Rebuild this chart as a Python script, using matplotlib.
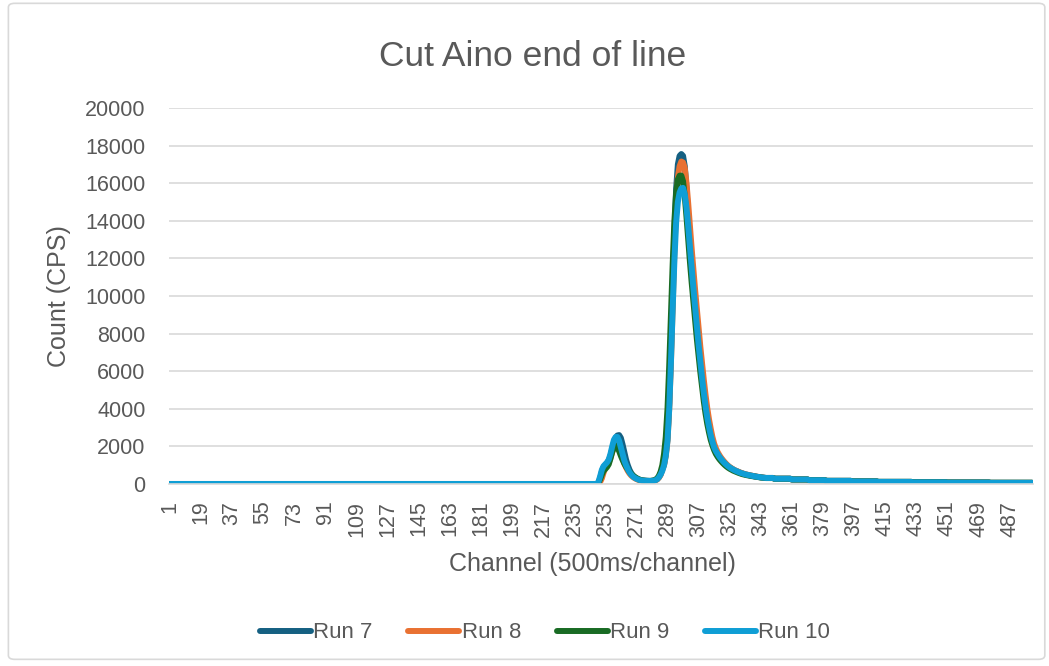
import numpy as np
import matplotlib
matplotlib.use("Agg")
import matplotlib.pyplot as plt
from matplotlib.patches import FancyBboxPatch

plt.rcParams["font.family"] = ["Liberation Sans", "DejaVu Sans"]

# Channels 1..500, values
channels = np.arange(1, 501)
labels = ["Run 7", "Run 8", "Run 9", "Run 10"]
colors = ["#156082", "#E97132", "#196B24", "#0F9ED5"]

# flat start: channels 1-245
baseline = [0] * 245

# peak window: channels 246-345
run7_peak = [
    0, 0, 0, 50, 300, 650, 900, 1000, 1100, 1250,
    1500, 1850, 2200, 2450, 2580, 2600, 2450, 2100, 1700, 1300,
    1000, 760, 580, 450, 360, 300, 250, 220, 200, 185,
    175, 170, 165, 165, 170, 180, 210, 260, 360, 520,
    800, 1050, 1600, 2500, 4300, 7000, 10200, 13300, 15700, 17000,
    17450, 17550, 17450, 16900, 15700, 14200, 12800, 11500, 10400, 9400,
    8400, 7400, 6500, 5650, 4850, 4150, 3550, 3050, 2600, 2250,
    1980, 1770, 1610, 1460, 1340, 1230, 1130, 1040, 960, 890,
    830, 775, 725, 685, 645, 605, 575, 545, 515, 492,
    472, 452, 432, 412, 397, 382, 367, 352, 342, 332,
]
run8_peak = [
    0, 0, 0, 0, 100, 300, 600, 850, 1000, 1150,
    1400, 1700, 1950, 2100, 2100, 1950, 1700, 1400, 1100, 880,
    700, 560, 450, 370, 310, 260, 225, 200, 185, 175,
    165, 160, 155, 155, 160, 170, 195, 240, 330, 480,
    750, 1000, 1500, 2300, 4000, 6500, 9500, 12400, 14800, 16300,
    16900, 17150, 17100, 16800, 16000, 14900, 13700, 12500, 11400, 10300,
    9300, 8300, 7300, 6400, 5550, 4750, 4050, 3450, 2950, 2500,
    2150, 1900, 1700, 1540, 1400, 1280, 1170, 1070, 980, 900,
    840, 780, 730, 690, 650, 610, 575, 545, 515, 495,
    470, 450, 430, 410, 395, 380, 365, 350, 340, 330,
]
run9_peak = [
    0, 0, 0, 50, 250, 500, 700, 800, 900, 1050,
    1350, 1700, 1950, 2050, 1950, 1750, 1500, 1280, 1080, 920,
    780, 650, 540, 450, 380, 320, 270, 230, 200, 185,
    170, 165, 160, 160, 170, 190, 230, 300, 430, 650,
    1000, 1600, 2500, 4000, 6300, 9000, 11700, 14000, 15500, 16200,
    16400, 16400, 16100, 15300, 14200, 13000, 11800, 10700, 9700, 8700,
    7700, 6800, 5950, 5150, 4400, 3750, 3200, 2750, 2350, 2050,
    1800, 1600, 1450, 1320, 1210, 1110, 1020, 940, 870, 810,
    760, 710, 670, 630, 595, 560, 530, 505, 485, 465,
    445, 430, 415, 400, 385, 370, 360, 345, 335, 325,
]
run10_peak = [
    0, 0, 0, 100, 400, 750, 950, 1050, 1150, 1300,
    1600, 2000, 2350, 2500, 2500, 2300, 1950, 1600, 1250, 1000,
    800, 620, 500, 400, 330, 280, 240, 210, 190, 180,
    170, 165, 160, 160, 165, 175, 200, 250, 350, 500,
    700, 1000, 1500, 2300, 4000, 6500, 9300, 11900, 13900, 15000,
    15500, 15720, 15750, 15400, 14700, 13700, 12600, 11500, 10400, 9400,
    8400, 7400, 6500, 5650, 4850, 4150, 3550, 3050, 2600, 2250,
    1950, 1750, 1600, 1450, 1330, 1220, 1120, 1030, 950, 880,
    820, 770, 720, 680, 640, 600, 570, 540, 510, 490,
    470, 450, 430, 410, 395, 380, 365, 350, 340, 330,
]

# slow tail: channels 346-500
run7_tail = [322] * 5 + [282] * 10 + [242] * 10 + [202] * 10 + [167] * 15 + [137] * 15 + [112] * 20 + [92] * 20 + [76] * 25 + [62] * 25
run8_tail = [318] * 5 + [278] * 10 + [238] * 10 + [198] * 10 + [163] * 15 + [133] * 15 + [108] * 20 + [88] * 20 + [72] * 25 + [58] * 25
run9_tail = [315] * 5 + [276] * 10 + [238] * 10 + [200] * 10 + [166] * 15 + [138] * 15 + [114] * 20 + [95] * 20 + [80] * 25 + [66] * 25
run10_tail = [320] * 5 + [280] * 10 + [240] * 10 + [200] * 10 + [165] * 15 + [135] * 15 + [110] * 20 + [90] * 20 + [75] * 25 + [60] * 25

series = [
    baseline + run7_peak + run7_tail,
    baseline + run8_peak + run8_tail,
    baseline + run9_peak + run9_tail,
    baseline + run10_peak + run10_tail,
]

grey_text = "#595959"
grid_col = "#D9D9D9"

fig = plt.figure(figsize=(10.49, 6.66), dpi=100)
ax = fig.add_axes([0.1611, 0.2733, 0.8236, 0.5646])

for vals, lab, col in zip(series, labels, colors):
    ax.plot(channels, vals, color=col, lw=4.3, label=lab,
            solid_capstyle="round", solid_joinstyle="round")

ax.set_xlim(0.5, 500.5)
ax.set_ylim(0, 20000)
ax.set_yticks(np.arange(0, 20001, 2000))
ax.set_xticks(np.arange(1, 501, 18))
ax.set_xticklabels([str(c) for c in range(1, 501, 18)], rotation=90)

ax.grid(axis="y", color=grid_col, lw=1.2)
ax.set_axisbelow(True)
for s in ["top", "right", "left"]:
    ax.spines[s].set_visible(False)
ax.spines["bottom"].set_color(grid_col)
ax.spines["bottom"].set_linewidth(1.2)
ax.tick_params(axis="y", length=0, pad=17, labelsize=15.5, labelcolor=grey_text)
ax.tick_params(axis="x", length=0, pad=12, labelsize=15.5, labelcolor=grey_text)

ax.set_xlabel("Channel (500ms/channel)", fontsize=18, color=grey_text)
ax.set_ylabel("Count (CPS)", fontsize=18, color=grey_text)
ax.xaxis.set_label_coords(0.49, -0.18)
ax.yaxis.set_label_coords(-0.114, 0.5)

fig.text(533 / 1049, 1 - 66 / 666, "Cut Aino end of line", fontsize=25.5,
         color=grey_text, ha="center", va="baseline")

fig.legend(loc="center", bbox_to_anchor=(545 / 1049, 1 - 633 / 666), ncol=4,
           frameon=False, fontsize=16, handlelength=2.3, handletextpad=0.1,
           columnspacing=1.6, labelcolor=grey_text)

# chart border
border = FancyBboxPatch((0.008, 0.01), 0.988, 0.985, transform=fig.transFigure,
                        boxstyle="round,pad=0,rounding_size=0.006",
                        fill=False, edgecolor=grid_col, lw=1.2)
fig.patches.append(border)

fig.savefig("out.png", dpi=100)
